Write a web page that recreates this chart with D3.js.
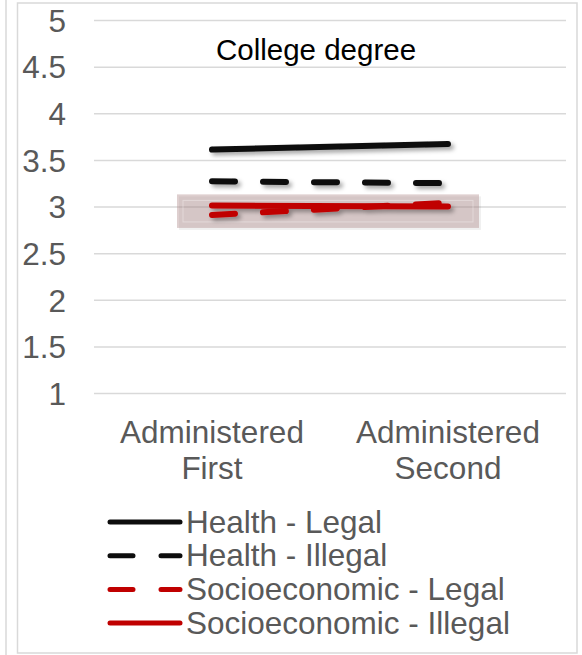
<!DOCTYPE html>
<html>
<head>
<meta charset="utf-8">
<script src="https://cdnjs.cloudflare.com/ajax/libs/d3/7.8.5/d3.min.js"></script>
<style>
  body { margin: 0; background: #fff; }
  text { font-family: Arial, "Liberation Sans", sans-serif; }
</style>
</head>
<body>
<svg></svg>
<script>
var categories = [["Administered", "First"], ["Administered", "Second"]];
var yTicks = [1, 1.5, 2, 2.5, 3, 3.5, 4, 4.5, 5];
var healthLegal = [3.61, 3.67];
var healthIllegal = [3.27, 3.25];
var socioLegal = [2.91, 3.04];
var socioIllegal = [3.01, 3.00];
var seriesNames = ["Health - Legal", "Health - Illegal", "Socioeconomic - Legal", "Socioeconomic - Illegal"];
var highlightRange = [2.77, 3.13];

var screen = {width: 582, height: 655};

var svg = d3.select("svg")
    .attr("width", screen.width)
    .attr("height", screen.height);

var defs = svg.append("defs");
defs.append("filter")
    .attr("id", "shadow")
    .attr("x", "-10%").attr("y", "-50%")
    .attr("width", "130%").attr("height", "250%")
    .append("feDropShadow")
    .attr("dx", 3).attr("dy", 3)
    .attr("stdDeviation", 2)
    .attr("flood-color", "#000")
    .attr("flood-opacity", 0.35);

// frames
svg.append("line")
    .attr("x1", 6).attr("x2", 6).attr("y1", 0).attr("y2", 655)
    .attr("stroke", "#d9d9d9").attr("stroke-width", 1.5);
svg.append("rect")
    .attr("x", 17.5).attr("y", 3)
    .attr("width", 559.5).attr("height", 650)
    .attr("fill", "none")
    .attr("stroke", "#d9d9d9").attr("stroke-width", 1.5);

var xScale = d3.scaleBand()
    .domain(d3.range(categories.length))
    .range([94, 566]);

var yScale = d3.scaleLinear()
    .domain([1, 5])
    .range([393, 20]);

var cx = function(i){ return xScale(i) + xScale.bandwidth() / 2; };

// gridlines + y labels
var yAxis = d3.axisLeft(yScale)
    .tickValues(yTicks)
    .tickSize(-(566 - 94))
    .tickPadding(28)
    .tickFormat(function(d){ return d; });

var gy = svg.append("g")
    .attr("transform", "translate(94,0)")
    .call(yAxis);
gy.select(".domain").remove();
gy.selectAll(".tick line").attr("stroke", "#d9d9d9").attr("stroke-width", 1.5);
gy.selectAll(".tick text")
    .attr("fill", "#595959")
    .style("font-size", "31.5px")
    .attr("dy", "0.36em");

// category labels
var gx = svg.append("g");
categories.forEach(function(c, i){
    var t = gx.append("text")
        .attr("x", cx(i))
        .attr("y", 443)
        .attr("text-anchor", "middle")
        .attr("fill", "#595959")
        .style("font-size", "31.5px");
    c.forEach(function(line, k){
        t.append("tspan")
            .attr("x", cx(i))
            .attr("dy", k == 0 ? 0 : 36)
            .text(line);
    });
});

// title
svg.append("text")
    .attr("x", 316)
    .attr("y", 60)
    .attr("text-anchor", "middle")
    .attr("fill", "#000")
    .style("font-size", "29.5px")
    .text("College degree");

// highlight box
var hb = svg.append("g");
var hx0 = cx(0) - 35, hx1 = cx(1) + 31;
var hy0 = yScale(highlightRange[1]), hy1 = yScale(highlightRange[0]);
hb.append("rect")
    .attr("x", hx0 + 2).attr("y", hy0 + 2)
    .attr("width", hx1 - hx0).attr("height", hy1 - hy0)
    .attr("fill", "#000").attr("fill-opacity", 0.06);
hb.append("rect")
    .attr("x", hx0).attr("y", hy0)
    .attr("width", hx1 - hx0).attr("height", hy1 - hy0)
    .attr("fill", "#b08c8c").attr("fill-opacity", 0.42);
hb.append("rect")
    .attr("x", hx0 + 6).attr("y", hy0 + 6)
    .attr("width", hx1 - hx0 - 12).attr("height", hy1 - hy0 - 12)
    .attr("fill", "none")
    .attr("stroke", "#ffffff").attr("stroke-opacity", 0.35).attr("stroke-width", 1);

var series = [
    {values: healthLegal, color: "#0d0d0d", dash: null},
    {values: healthIllegal, color: "#0d0d0d", dash: "23,28"},
    {values: socioLegal, color: "#c00000", dash: "23,28"},
    {values: socioIllegal, color: "#c00000", dash: null}
];

var line = d3.line()
    .x(function(d, i){ return cx(i); })
    .y(function(d){ return yScale(d); });

var gl = svg.append("g").attr("filter", "url(#shadow)");
series.forEach(function(s){
    gl.append("path")
        .datum(s.values)
        .attr("fill", "none")
        .attr("stroke", s.color)
        .attr("stroke-width", 6)
        .attr("stroke-linecap", "round")
        .attr("stroke-dasharray", s.dash)
        .attr("d", line);
});

// legend
var legend = svg.append("g");
series.forEach(function(s, i){
    var y = 522 + i * 33.7;
    legend.append("line")
        .attr("x1", 110).attr("x2", 180)
        .attr("y1", y).attr("y2", y)
        .attr("stroke", s.color)
        .attr("stroke-width", 5)
        .attr("stroke-linecap", "round")
        .attr("stroke-dasharray", s.dash);
    legend.append("text")
        .attr("x", 186)
        .attr("y", y + 10.5)
        .attr("fill", "#595959")
        .style("font-size", "31.5px")
        .text(seriesNames[i]);
});
</script>
</body>
</html>
